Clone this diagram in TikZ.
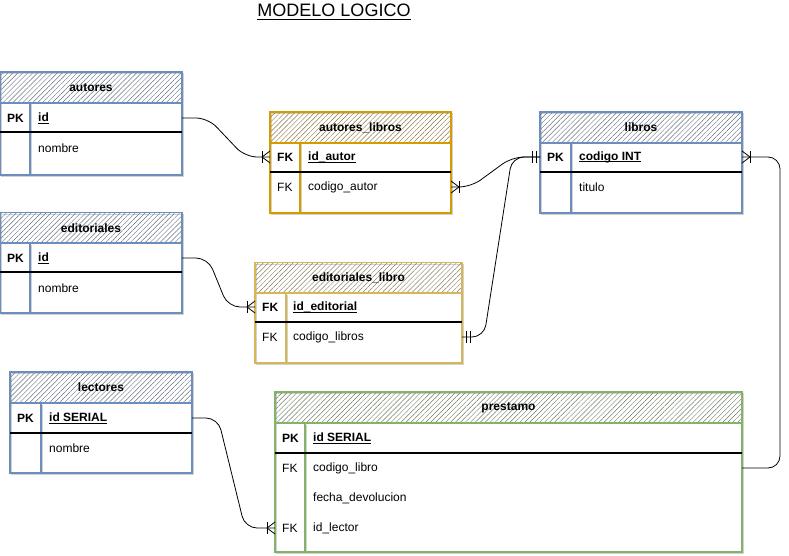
\documentclass[tikz,border=0pt]{standalone}
\usepackage{fontspec}
\setmainfont{Liberation Sans}
\usetikzlibrary{patterns.meta, calc}

\definecolor{tblBlue}{HTML}{6C8EBF}
\definecolor{tblOrange}{HTML}{D79B00}
\definecolor{tblYellow}{HTML}{D6B656}
\definecolor{tblGreen}{HTML}{82B366}

\newcommand{\fieldul}[1]{\leavevmode\setbox0\hbox{#1}\rlap{\vrule width\wd0 height -0.1em depth 0.17em}\box0}

\tikzset{
	tblhead/.style={draw=#1, line width=1.1pt, inner sep=0pt, minimum height=31pt,
		pattern={Lines[angle=45, distance=3.5pt, line width=0.45pt]}, pattern color=#1!40!gray!85!black,
		font=\fontsize{12}{14}\selectfont\bfseries},
	tblbody/.style={draw=#1, line width=1.1pt},
	tblshadow/.style={draw=gray!35, line width=1pt, shift={(1.5,1.5)}},
	keysep/.style={line width=1.2pt},
	keytxt/.style={anchor=west, inner sep=0pt, font=\fontsize{12}{14}\selectfont\bfseries},
	fldtxt/.style={anchor=west, inner sep=0pt, font=\fontsize{12}{14}\selectfont},
	rel/.style={line width=0.8pt, rounded corners=12pt},
	pics/crowbar/.style={code={
		\draw[line width=0.8pt] (-8,-6) -- (-8,6);
		\draw[line width=0.8pt] (0,-6) -- (-8,0) -- (0,6);
	}},
	pics/twobar/.style={code={
		\draw[line width=0.8pt] (-4,-6) -- (-4,6);
		\draw[line width=0.8pt] (-8,-6) -- (-8,6);
	}},
}

\begin{document}
\begin{tikzpicture}[x=1pt, y=-1pt]
	\useasboundingbox (0,0) rectangle (789,556);

	\node[fldtxt, anchor=center, font=\fontsize{18}{20}\selectfont] (title) at (334,12) {\fieldul{MODELO LOGICO}};

	% autores
	\begin{scope}
		\draw[tblshadow] (0,72) rectangle (182,175) (30,103) -- (30,175);
		\node[tblhead=tblBlue, minimum width=182pt] (autores) at (91,87.5) {autores};
		\draw[tblbody=tblBlue] (0,103) rectangle (182,175) (30,103) -- (30,175);
		\draw[keysep] (0,132) -- (182,132);
		\node[keytxt] (autores-pk) at (7,118) {PK};
		\node[keytxt] (autores-idtxt) at (38,118) {\fieldul{id}};
		\node[fldtxt] (autores-nombre) at (38,148) {nombre};
		\coordinate (autores-id) at (182,118);
	\end{scope}

	% editoriales
	\begin{scope}
		\draw[tblshadow] (0,213) rectangle (182,313) (30,243) -- (30,313);
		\node[tblhead=tblBlue, minimum width=182pt] (editoriales) at (91,228) {editoriales};
		\draw[tblbody=tblBlue] (0,243) rectangle (182,313) (30,243) -- (30,313);
		\draw[keysep] (0,272) -- (182,272);
		\node[keytxt] (editoriales-pk) at (7,258) {PK};
		\node[keytxt] (editoriales-idtxt) at (38,258) {\fieldul{id}};
		\node[fldtxt] (editoriales-nombre) at (38,288) {nombre};
		\coordinate (editoriales-id) at (182,258);
	\end{scope}

	% lectores
	\begin{scope}
		\draw[tblshadow] (10,372) rectangle (192,473) (41,403) -- (41,473);
		\node[tblhead=tblBlue, minimum width=182pt] (lectores) at (101,387.5) {lectores};
		\draw[tblbody=tblBlue] (10,403) rectangle (192,473) (41,403) -- (41,473);
		\draw[keysep] (10,433) -- (192,433);
		\node[keytxt] (lectores-pk) at (17,418) {PK};
		\node[keytxt] (lectores-idtxt) at (49,418) {\fieldul{id SERIAL}};
		\node[fldtxt] (lectores-nombre) at (49,448) {nombre};
		\coordinate (lectores-id) at (192,418);
	\end{scope}

	% autores_libros
	\begin{scope}
		\draw[tblshadow] (270,112) rectangle (451,213) (300,143) -- (300,213);
		\node[tblhead=tblOrange, minimum width=181pt] (autlib) at (360.5,127.5) {autores\_libros};
		\draw[tblbody=tblOrange] (270,143) rectangle (451,213) (300,143) -- (300,213);
		\draw[keysep] (270,172) -- (451,172);
		\node[keytxt] (autlib-fk1) at (277,157) {FK};
		\node[keytxt] (autlib-idtxt) at (308,157) {\fieldul{id\_autor}};
		\node[fldtxt] (autlib-fk2) at (277,187) {FK};
		\node[fldtxt] (autlib-codtxt) at (308,187) {codigo\_autor};
		\coordinate (autlib-id) at (270,157);
		\coordinate (autlib-cod) at (451,187);
	\end{scope}

	% libros
	\begin{scope}
		\draw[tblshadow] (540,112) rectangle (742,213) (571,143) -- (571,213);
		\node[tblhead=tblBlue, minimum width=202pt] (libros) at (641,127.5) {libros};
		\draw[tblbody=tblBlue] (540,143) rectangle (742,213) (571,143) -- (571,213);
		\draw[keysep] (540,172) -- (742,172);
		\node[keytxt] (libros-pk) at (547,157) {PK};
		\node[keytxt] (libros-codtxt) at (579,157) {\fieldul{codigo INT}};
		\node[fldtxt] (libros-titulo) at (579,187) {titulo};
		\coordinate (libros-codl) at (540,157);
		\coordinate (libros-codr) at (742,157);
	\end{scope}

	% editoriales_libro
	\begin{scope}
		\draw[tblshadow] (255,263) rectangle (462,363) (286,293) -- (286,363);
		\node[tblhead=tblYellow, minimum width=207pt] (edlib) at (358.5,278) {editoriales\_libro};
		\draw[tblbody=tblYellow] (255,293) rectangle (462,363) (286,293) -- (286,363);
		\draw[keysep] (255,322) -- (462,322);
		\node[keytxt] (edlib-fk1) at (262,307) {FK};
		\node[keytxt] (edlib-idtxt) at (293,307) {\fieldul{id\_editorial}};
		\node[fldtxt] (edlib-fk2) at (262,337) {FK};
		\node[fldtxt] (edlib-codtxt) at (293,337) {codigo\_libros};
		\coordinate (edlib-ided) at (255,307);
		\coordinate (edlib-cod) at (462,337);
	\end{scope}

	% prestamo
	\begin{scope}
		\draw[tblshadow] (275,392) rectangle (742,552) (305,423) -- (305,552);
		\node[tblhead=tblGreen, minimum width=467pt] (prestamo) at (508.5,407.5) {prestamo};
		\draw[tblbody=tblGreen] (275,423) rectangle (742,552) (305,423) -- (305,552);
		\draw[keysep] (275,453) -- (742,453);
		\node[keytxt] (prestamo-pk) at (282,438) {PK};
		\node[keytxt] (prestamo-idtxt) at (313,438) {\fieldul{id SERIAL}};
		\node[fldtxt] (prestamo-fk1) at (282,468) {FK};
		\node[fldtxt] (prestamo-libtxt) at (313,468) {codigo\_libro};
		\node[fldtxt] (prestamo-fechatxt) at (313,498) {fecha\_devolucion};
		\node[fldtxt] (prestamo-fk2) at (282,528) {FK};
		\node[fldtxt] (prestamo-lectxt) at (313,528) {id\_lector};
		\coordinate (prestamo-lib) at (742,468);
		\coordinate (prestamo-idlec) at (275,528);
	\end{scope}

	% relaciones
	\draw[rel] (autores-id) -- ++(26,0) -- ([xshift=-25pt]autlib-id) -- (autlib-id);
	\draw[rel] (editoriales-id) -- ++(26,0) -- ([xshift=-27pt]edlib-ided) -- (edlib-ided);
	\draw[rel] (autlib-cod) -- ++(20,0) -- ([xshift=-28pt]libros-codl) -- (libros-codl);
	\draw[rel] (edlib-cod) -- ++(22,0) -- ([xshift=-28pt]libros-codl) -- (libros-codl);
	\draw[rel] (prestamo-lib) -| ([xshift=38pt]libros-codr) -- (libros-codr);
	\draw[rel] (lectores-id) -- ++(26,0) -- ([xshift=-30pt]prestamo-idlec) -- (prestamo-idlec);

	\pic at (autlib-id) {crowbar};
	\pic at (edlib-ided) {crowbar};
	\pic at (prestamo-idlec) {crowbar};
	\pic[xscale=-1] at (autlib-cod) {crowbar};
	\pic[xscale=-1] at (libros-codr) {crowbar};
	\pic at (libros-codl) {twobar};
	\pic[xscale=-1] at (edlib-cod) {twobar};
\end{tikzpicture}
\end{document}
